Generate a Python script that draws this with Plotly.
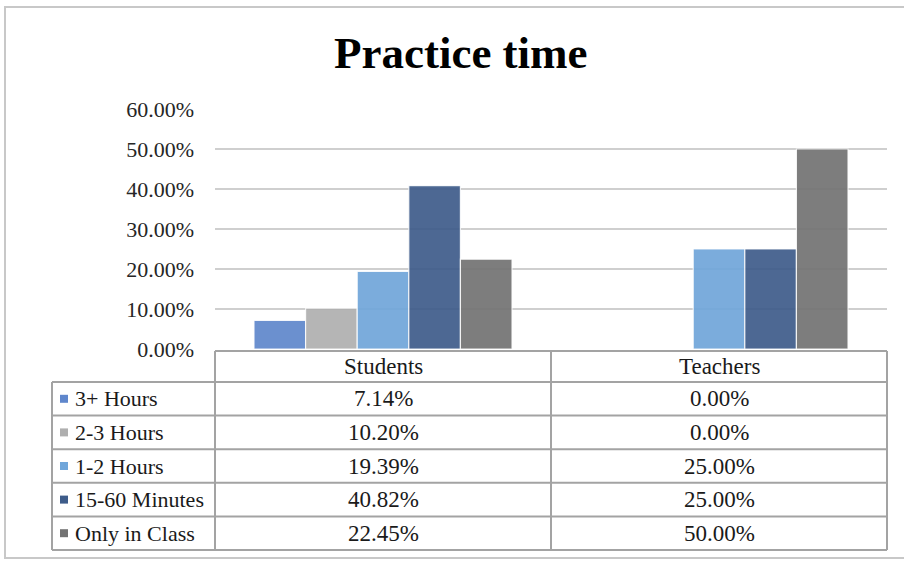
import plotly.graph_objects as go

# Data
groups = ["Students", "Teachers"]
series_names = ["3+ Hours", "2-3 Hours", "1-2 Hours", "15-60 Minutes", "Only in Class"]
students = [7.14, 10.20, 19.39, 40.82, 22.45]
teachers = [0.00, 0.00, 25.00, 25.00, 50.00]
colors = ["#5F87CC", "#AFAFAF", "#70A6DA", "#3E5C8A", "#737373"]
y_ticks = [0, 10, 20, 30, 40, 50, 60]

W, H = 904, 561
FONT = "Liberation Serif, Times New Roman, serif"
GRID = "#CFCFCF"
BORDER = "#A3A3A3"


def px(x):
    return x / W


def py(y):
    return 1 - y / H


# Layout geometry (pixels)
plot_l, plot_r = 215, 887
plot_top, plot_bot = 109, 349
leg_l = 52
row_top = 351
head_bot = 382
row_h = 33.6

fig = go.Figure()
for i, name in enumerate(series_names):
    fig.add_trace(go.Bar(
        x=groups,
        y=[students[i] / 100, teachers[i] / 100],
        name=name,
        marker=dict(color=colors[i], opacity=0.92,
                    line=dict(color="rgba(255,255,255,0.85)", width=1.2)),
        showlegend=False,
        hoverinfo="skip",
    ))

shapes = []
annotations = []

# Outer frame
shapes.append(dict(type="rect", xref="paper", yref="paper",
                   x0=px(5), x1=px(910), y0=py(558), y1=py(7),
                   line=dict(color="#C8C8C8", width=2), layer="below"))

# Table lines
line = dict(color=BORDER, width=2)
col_x = [leg_l, plot_l, (plot_l + plot_r) / 2, plot_r]
n_rows = len(series_names)
table_bot = head_bot + n_rows * row_h

# header row (only the data columns are boxed)
shapes.append(dict(type="line", xref="paper", yref="paper", x0=px(plot_l), x1=px(plot_r),
                   y0=py(row_top), y1=py(row_top), line=line))
for r in range(n_rows + 1):
    yy = head_bot + r * row_h
    shapes.append(dict(type="line", xref="paper", yref="paper", x0=px(leg_l), x1=px(plot_r),
                       y0=py(yy), y1=py(yy), line=line))
for j, xx in enumerate(col_x):
    y_start = head_bot if j == 0 else row_top
    shapes.append(dict(type="line", xref="paper", yref="paper", x0=px(xx), x1=px(xx),
                       y0=py(y_start), y1=py(table_bot), line=line))

# Header labels
for g, name in enumerate(groups):
    cx = (col_x[g + 1] + col_x[g + 2]) / 2
    annotations.append(dict(x=px(cx), y=py((row_top + head_bot) / 2), xref="paper", yref="paper",
                            text=name, showarrow=False, xanchor="center", yanchor="middle",
                            font=dict(family=FONT, size=23, color="#1A1A1A")))

# Rows: legend key, series name and values
for r, name in enumerate(series_names):
    cy = head_bot + (r + 0.5) * row_h
    shapes.append(dict(type="rect", xref="paper", yref="paper",
                       x0=px(60), x1=px(68), y0=py(cy + 4), y1=py(cy - 4),
                       fillcolor=colors[r], line=dict(width=0)))
    annotations.append(dict(x=px(73), y=py(cy), xref="paper", yref="paper",
                            text=name, showarrow=False, xanchor="left", yanchor="middle",
                            font=dict(family=FONT, size=22, color="#1A1A1A")))
    for g, vals in enumerate([students, teachers]):
        cx = (col_x[g + 1] + col_x[g + 2]) / 2
        annotations.append(dict(x=px(cx), y=py(cy), xref="paper", yref="paper",
                                text=f"{vals[r]:.2f}%", showarrow=False,
                                xanchor="center", yanchor="middle",
                                font=dict(family=FONT, size=23, color="#1A1A1A")))

# Title
annotations.append(dict(x=px(461), y=py(53), xref="paper", yref="paper",
                        text="<b>Practice time</b>", showarrow=False,
                        xanchor="center", yanchor="middle",
                        font=dict(family=FONT, size=45, color="#000000")))

fig.update_layout(
    width=W, height=H, autosize=False,
    margin=dict(l=0, r=0, t=0, b=0, pad=0, autoexpand=False),
    paper_bgcolor="white", plot_bgcolor="white",
    barmode="group", bargap=0.232, bargroupgap=0,
    shapes=shapes, annotations=annotations,
    xaxis=dict(domain=[px(plot_l), px(plot_r)], showticklabels=False, showgrid=False,
               zeroline=False, showline=False, fixedrange=True, automargin=False),
    yaxis=dict(domain=[py(plot_bot), py(plot_top)], range=[0, 0.6],
               tickvals=[v / 100 for v in y_ticks], tickformat=".2%",
               showgrid=True, gridcolor=GRID, gridwidth=1.5,
               zeroline=False, showline=False, ticks="", automargin=False,
               ticklabelstandoff=20,
               tickfont=dict(family=FONT, size=22, color="#262626"), fixedrange=True),
)

fig.write_html("out.html")
